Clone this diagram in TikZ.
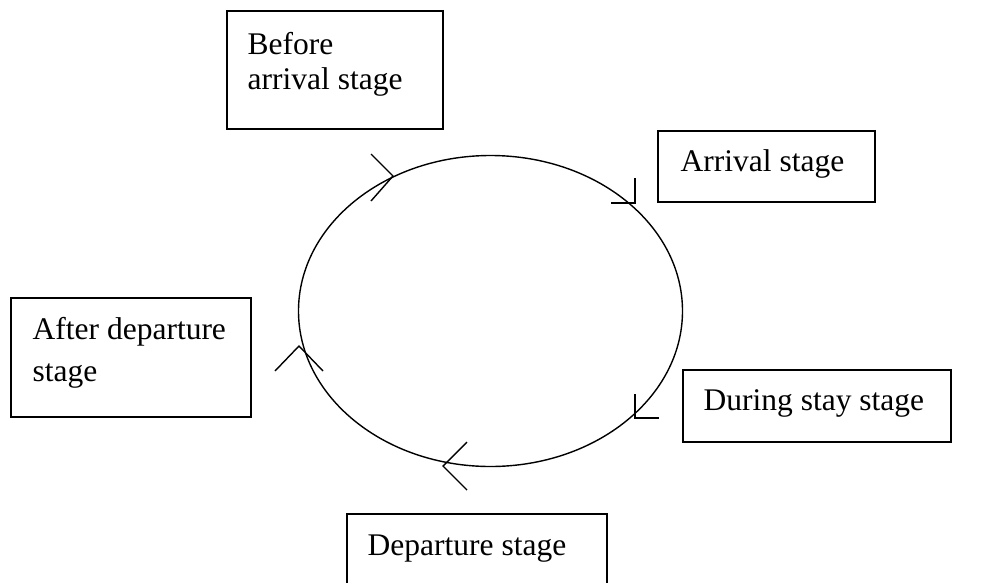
\documentclass[tikz,border=0pt]{standalone}
\usepackage{fontspec}
\setmainfont{Liberation Serif}
\begin{document}
\begin{tikzpicture}[x=1pt,y=-1pt,line width=1.4pt,
  stagetext/.style={anchor=north west,inner sep=0pt,align=left,
    font=\fontsize{31.5}{35}\selectfont}]
\useasboundingbox (0,0) rectangle (986,582);
\clip (0,0) rectangle (986,582);
% the cycle
\draw (490.5,311) ellipse [x radius=192, y radius=155.5];
% stage boxes
\draw (227,11) rectangle (443,129);
\draw (658,131) rectangle (875,202);
\draw (11,298) rectangle (251,417);
\draw (683,370) rectangle (951,442);
\draw (347,514) rectangle (607,600);
\node[stagetext] (before) at (247,31.5) {Before\\arrival stage};
\node[stagetext] (arrival) at (680,148.5) {Arrival stage};
\node[stagetext] (after) at (32,316.5) {After departure\\[7pt]stage};
\node[stagetext] (during) at (703,388.5) {During stay stage};
\node[stagetext] (departure) at (367,534) {Departure stage};
% arrow marks on the cycle
\draw (371,154) -- (393,176) -- (371,201);
\draw (635,178) -- (635,203) -- (611,203);
\draw (635,394) -- (635,418) -- (659,418);
\draw (467,442) -- (443,466) -- (467,490);
\draw (275,371) -- (299,346) -- (323,371);
\end{tikzpicture}
\end{document}
